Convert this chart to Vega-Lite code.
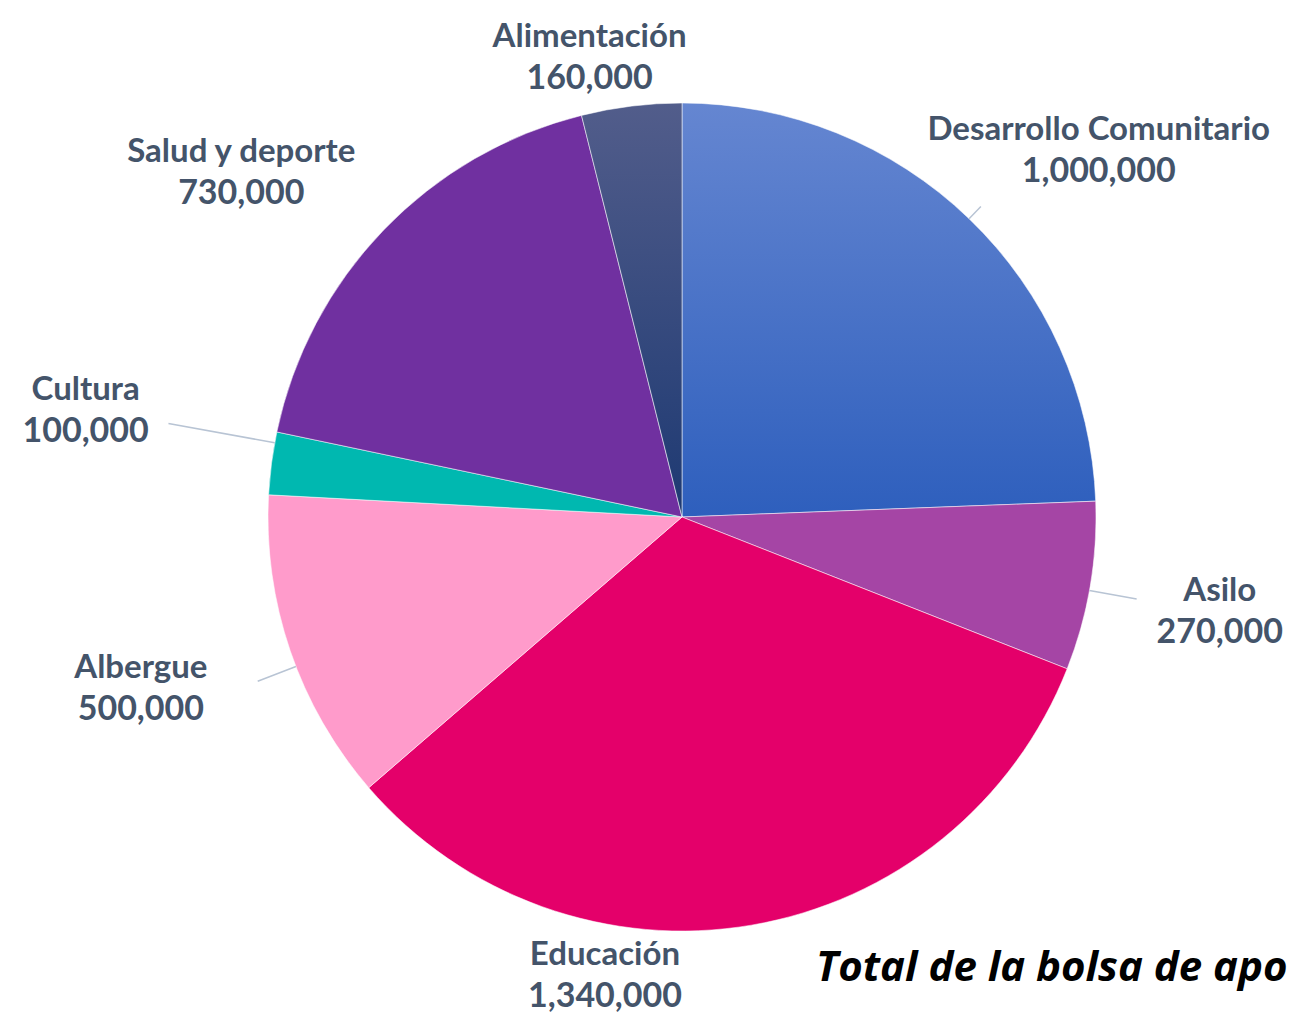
{
  "$schema": "https://vega.github.io/schema/vega-lite/v6.json",
  "width": 1214,
  "height": 1008,
  "autosize": {"type": "none"},
  "padding": {"left": 75, "top": 13, "right": 0, "bottom": 0},
  "background": "white",
  "config": {"view": {"stroke": null}},
  "title": {
    "text": "Total de la bolsa de apo",
    "orient": "none",
    "anchor": "start",
    "frame": "group",
    "dx": 741,
    "dy": 968,
    "baseline": "alphabetic",
    "align": "left",
    "font": "Open Sans",
    "fontSize": 42,
    "fontWeight": "bold",
    "fontStyle": "italic",
    "color": "#000000"
  },
  "data": {
    "values": [
      {"i": 1, "name": "Desarrollo Comunitario", "value": 1000000},
      {"i": 2, "name": "Asilo", "value": 270000},
      {"i": 3, "name": "Educación", "value": 1340000},
      {"i": 4, "name": "Albergue", "value": 500000},
      {"i": 5, "name": "Cultura", "value": 100000},
      {"i": 6, "name": "Salud y deporte", "value": 730000},
      {"i": 7, "name": "Alimentación", "value": 160000}
    ]
  },
  "encoding": {
    "theta": {"field": "value", "type": "quantitative", "stack": true},
    "order": {"field": "i", "type": "quantitative", "sort": "ascending"}
  },
  "layer": [
    {
      "mark": {"type": "arc", "outerRadius": 414, "stroke": "#ffffff", "strokeWidth": 0.75, "strokeOpacity": 0.7},
      "encoding": {
        "color": {
          "condition": [
            {"test": "datum.name === 'Desarrollo Comunitario'", "value": {"gradient": "linear", "x1": 0, "y1": 0, "x2": 0, "y2": 1, "stops": [{"offset": 0, "color": "#6586d1"}, {"offset": 1, "color": "#2e5fbd"}]}},
            {"test": "datum.name === 'Alimentación'", "value": {"gradient": "linear", "x1": 0, "y1": 0, "x2": 0, "y2": 1, "stops": [{"offset": 0, "color": "#525d8b"}, {"offset": 1, "color": "#1d3972"}]}}
          ],
          "field": "name",
          "type": "nominal",
          "scale": {
            "domain": ["Desarrollo Comunitario", "Asilo", "Educación", "Albergue", "Cultura", "Salud y deporte", "Alimentación"],
            "range": ["#4472c4", "#a545a5", "#e4006a", "#ff9bcb", "#00b8b0", "#7030a0", "#2e4a80"]
          },
          "legend": null
        }
      }
    },
    {
      "mark": {"type": "arc", "innerRadius": 414, "outerRadius": 431, "padAngle": 3.1, "fillOpacity": 0, "stroke": "#b8c4d4", "strokeWidth": 1.5},
      "encoding": {"detail": {"field": "name"}, "opacity": {"condition": {"test": "datum.name === 'Desarrollo Comunitario'", "value": 1}, "value": 0}}
    },
    {
      "mark": {"type": "arc", "innerRadius": 414, "outerRadius": 462, "padAngle": 3.1, "thetaOffset": 0.01, "theta2Offset": 0.01, "fillOpacity": 0, "stroke": "#b8c4d4", "strokeWidth": 1.5},
      "encoding": {"detail": {"field": "name"}, "opacity": {"condition": {"test": "datum.name === 'Asilo'", "value": 1}, "value": 0}}
    },
    {
      "mark": {"type": "arc", "innerRadius": 414, "outerRadius": 455, "padAngle": 3.1, "thetaOffset": -0.04, "theta2Offset": -0.04, "fillOpacity": 0, "stroke": "#b8c4d4", "strokeWidth": 1.5},
      "encoding": {"detail": {"field": "name"}, "opacity": {"condition": {"test": "datum.name === 'Albergue'", "value": 1}, "value": 0}}
    },
    {
      "mark": {"type": "arc", "innerRadius": 414, "outerRadius": 522, "padAngle": 3.1, "thetaOffset": 0.05, "theta2Offset": 0.05, "fillOpacity": 0, "stroke": "#b8c4d4", "strokeWidth": 1.5},
      "encoding": {"detail": {"field": "name"}, "opacity": {"condition": {"test": "datum.name === 'Cultura'", "value": 1}, "value": 0}}
    },
    {
      "mark": {"type": "text", "radius": 548, "thetaOffset": 0.0977, "dy": -21, "font": "Lato", "fontWeight": "bold", "fontSize": 33, "fill": "#44546a", "align": "center", "baseline": "alphabetic"},
      "encoding": {"detail": {"field": "name"}, "text": {"condition": {"test": "datum.name === 'Desarrollo Comunitario'", "field": "name"}, "value": ""}}
    },
    {
      "mark": {"type": "text", "radius": 548, "thetaOffset": 0.0977, "dy": 21, "font": "Lato", "fontWeight": "bold", "fontSize": 34, "fill": "#44546a", "align": "center", "baseline": "alphabetic"},
      "encoding": {"detail": {"field": "name"}, "text": {"condition": {"test": "datum.name === 'Desarrollo Comunitario'", "field": "value", "type": "quantitative", "format": ","}, "value": ""}}
    },
    {
      "mark": {"type": "text", "radius": 548, "thetaOffset": 0.025, "dy": -21, "font": "Lato", "fontWeight": "bold", "fontSize": 33, "fill": "#44546a", "align": "center", "baseline": "alphabetic"},
      "encoding": {"detail": {"field": "name"}, "text": {"condition": {"test": "datum.name === 'Asilo'", "field": "name"}, "value": ""}}
    },
    {
      "mark": {"type": "text", "radius": 548, "thetaOffset": 0.025, "dy": 21, "font": "Lato", "fontWeight": "bold", "fontSize": 34, "fill": "#44546a", "align": "center", "baseline": "alphabetic"},
      "encoding": {"detail": {"field": "name"}, "text": {"condition": {"test": "datum.name === 'Asilo'", "field": "value", "type": "quantitative", "format": ","}, "value": ""}}
    },
    {
      "mark": {"type": "text", "radius": 475, "thetaOffset": 0.3315, "dy": -21, "font": "Lato", "fontWeight": "bold", "fontSize": 33, "fill": "#44546a", "align": "center", "baseline": "alphabetic"},
      "encoding": {"detail": {"field": "name"}, "text": {"condition": {"test": "datum.name === 'Educación'", "field": "name"}, "value": ""}}
    },
    {
      "mark": {"type": "text", "radius": 475, "thetaOffset": 0.3315, "dy": 21, "font": "Lato", "fontWeight": "bold", "fontSize": 34, "fill": "#44546a", "align": "center", "baseline": "alphabetic"},
      "encoding": {"detail": {"field": "name"}, "text": {"condition": {"test": "datum.name === 'Educación'", "field": "value", "type": "quantitative", "format": ","}, "value": ""}}
    },
    {
      "mark": {"type": "text", "radius": 571, "thetaOffset": 0.0047, "dy": -21, "font": "Lato", "fontWeight": "bold", "fontSize": 33, "fill": "#44546a", "align": "center", "baseline": "alphabetic"},
      "encoding": {"detail": {"field": "name"}, "text": {"condition": {"test": "datum.name === 'Albergue'", "field": "name"}, "value": ""}}
    },
    {
      "mark": {"type": "text", "radius": 571, "thetaOffset": 0.0047, "dy": 21, "font": "Lato", "fontWeight": "bold", "fontSize": 34, "fill": "#44546a", "align": "center", "baseline": "alphabetic"},
      "encoding": {"detail": {"field": "name"}, "text": {"condition": {"test": "datum.name === 'Albergue'", "field": "value", "type": "quantitative", "format": ","}, "value": ""}}
    },
    {
      "mark": {"type": "text", "radius": 604, "thetaOffset": 0.0288, "dy": -21, "font": "Lato", "fontWeight": "bold", "fontSize": 33, "fill": "#44546a", "align": "center", "baseline": "alphabetic"},
      "encoding": {"detail": {"field": "name"}, "text": {"condition": {"test": "datum.name === 'Cultura'", "field": "name"}, "value": ""}}
    },
    {
      "mark": {"type": "text", "radius": 604, "thetaOffset": 0.0288, "dy": 21, "font": "Lato", "fontWeight": "bold", "fontSize": 34, "fill": "#44546a", "align": "center", "baseline": "alphabetic"},
      "encoding": {"detail": {"field": "name"}, "text": {"condition": {"test": "datum.name === 'Cultura'", "field": "value", "type": "quantitative", "format": ","}, "value": ""}}
    },
    {
      "mark": {"type": "text", "radius": 553, "thetaOffset": -0.1177, "dy": -21, "font": "Lato", "fontWeight": "bold", "fontSize": 33, "fill": "#44546a", "align": "center", "baseline": "alphabetic"},
      "encoding": {"detail": {"field": "name"}, "text": {"condition": {"test": "datum.name === 'Salud y deporte'", "field": "name"}, "value": ""}}
    },
    {
      "mark": {"type": "text", "radius": 553, "thetaOffset": -0.1177, "dy": 21, "font": "Lato", "fontWeight": "bold", "fontSize": 34, "fill": "#44546a", "align": "center", "baseline": "alphabetic"},
      "encoding": {"detail": {"field": "name"}, "text": {"condition": {"test": "datum.name === 'Salud y deporte'", "field": "value", "type": "quantitative", "format": ","}, "value": ""}}
    },
    {
      "mark": {"type": "text", "radius": 458, "thetaOffset": -0.0806, "dy": -21, "font": "Lato", "fontWeight": "bold", "fontSize": 33, "fill": "#44546a", "align": "center", "baseline": "alphabetic"},
      "encoding": {"detail": {"field": "name"}, "text": {"condition": {"test": "datum.name === 'Alimentación'", "field": "name"}, "value": ""}}
    },
    {
      "mark": {"type": "text", "radius": 458, "thetaOffset": -0.0806, "dy": 21, "font": "Lato", "fontWeight": "bold", "fontSize": 34, "fill": "#44546a", "align": "center", "baseline": "alphabetic"},
      "encoding": {"detail": {"field": "name"}, "text": {"condition": {"test": "datum.name === 'Alimentación'", "field": "value", "type": "quantitative", "format": ","}, "value": ""}}
    }
  ]
}
